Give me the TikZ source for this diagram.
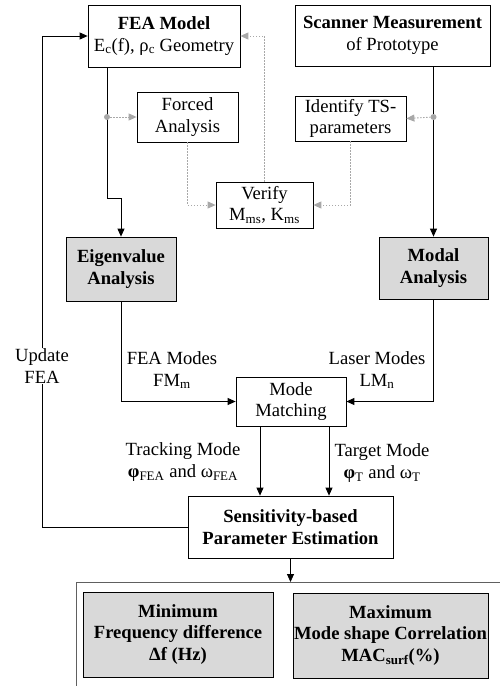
\documentclass[tikz,border=0pt]{standalone}
\usepackage{fontspec}
\setmainfont{Liberation Serif}
\usetikzlibrary{arrows.meta,calc}
\definecolor{boxgray}{HTML}{D9D9D9}
\definecolor{dotgray}{HTML}{A8A8A8}
\definecolor{framegray}{HTML}{606060}
\begin{document}
\begin{tikzpicture}[x=1pt,y=-1pt,
  box/.style={draw=black, line width=0.75pt, align=center, inner sep=0pt, font=\fontsize{18.6}{21.5}\selectfont},
  gbox/.style={box, fill=boxgray},
  arr/.style={line width=0.85pt, -{Triangle[length=8pt,width=7pt]}},
  garr/.style={draw=dotgray, line width=0.9pt, dash pattern=on 1.5pt off 1.5pt, -{Triangle[length=8pt,width=7pt,fill=dotgray]}},
  lbl/.style={align=center, inner sep=1pt, font=\fontsize{18.6}{22}\selectfont},
  gdot/.style={circle, fill=dotgray, inner sep=0pt, minimum size=6pt}
]
\useasboundingbox (0,0) rectangle (500,686);

% boxes
\node[box, minimum width=152pt, minimum height=62pt] (fea) at (164,36)
  {\textbf{FEA Model}\\E\textsubscript{c}(f), ρ\textsubscript{c} Geometry};
\node[box, minimum width=195pt, minimum height=61pt] (scan) at (392.5,35.5)
  {\textbf{Scanner Measurement}\\of Prototype};
\node[box, minimum width=101pt, minimum height=50pt] (forced) at (187.5,117)
  {Forced\\Analysis};
\node[box, minimum width=111pt, minimum height=45pt] (ident) at (350.5,118.5)
  {Identify TS-\\parameters};
\node[box, minimum width=97pt, minimum height=46pt] (verify) at (264.5,205)
  {Verify\\M\textsubscript{ms}, K\textsubscript{ms}};
\node[gbox, minimum width=110pt, minimum height=64pt] (eig) at (121,269)
  {\textbf{Eigenvalue}\\\textbf{Analysis}};
\node[gbox, minimum width=109pt, minimum height=62pt] (modal) at (433.5,268)
  {\textbf{Modal}\\\textbf{Analysis}};
\node[box, minimum width=110pt, minimum height=49pt] (match) at (291,401.5)
  {Mode\\Matching};
\node[box, minimum width=205pt, minimum height=62pt] (sens) at (290.5,527)
  {\textbf{Sensitivity-based}\\\textbf{Parameter Estimation}};
\node[gbox, minimum width=190pt, minimum height=85pt] (minb) at (178,634.5)
  {\textbf{Minimum}\\\textbf{Frequency difference}\\\textbf{Δf (Hz)}};
\node[gbox, minimum width=195pt, minimum height=85pt] (maxb) at (390.5,635.5)
  {\textbf{Maximum}\\\textbf{Mode shape Correlation}\\\textbf{MAC\textsubscript{surf}(\%)}};

% helper coordinates
\coordinate (jL) at (107,117);
\coordinate (jR) at (433.5,117);
\coordinate (bend) at (0,198);
\coordinate (fb) at (42,527);
\coordinate (frametop) at (76,582);
\coordinate (frameright) at (500,582);
\coordinate (framebottom) at (76,686);

% main flow
\draw[arr] (fea.south -| jL) -- (jL |- bend) -| (eig.north);
\draw[arr] (modal.north |- scan.south) -- (modal.north);
\draw[arr] (eig.south) |- (match.west);
\draw[arr] (modal.south) |- (match.east);
\draw[arr] ([xshift=-31pt]match.south) -- ([xshift=-31pt]match.south |- sens.north);
\draw[arr] ([xshift=38pt]match.south) -- ([xshift=38pt]match.south |- sens.north);
\draw[arr] (sens.west) -- (fb) |- (fea.west);
\draw[arr] (sens.south) -- (sens.south |- frametop);

% frame
\draw[framegray, line width=0.9pt] (frameright) -- (frametop) -- (framebottom);

% gray dotted verification loop
\draw[garr] (jL) -- (forced.west);
\draw[garr] (jR) -- (ident.east);
\draw[garr] (forced.south) |- (verify.west);
\draw[garr] (ident.south) |- (verify.east);
\draw[garr] (verify.north) |- (fea.east);
\node[gdot] at (jL) {};
\node[gdot] at (jR) {};

% labels
\node[lbl, fill=white] (upd) at (42,366) {Update\\FEA};
\node[lbl] (feam) at (172,370) {FEA Modes\\FM\textsubscript{m}};
\node[lbl] (lasm) at (377,370) {Laser Modes\\LM\textsubscript{n}};
\node[lbl] (track) at (183,462) {Tracking Mode\\\textbf{φ}\textsubscript{FEA} and ω\textsubscript{FEA}};
\node[lbl] (targ) at (382,463) {Target Mode\\\textbf{φ}\textsubscript{T} and ω\textsubscript{T}};
\end{tikzpicture}
\end{document}
